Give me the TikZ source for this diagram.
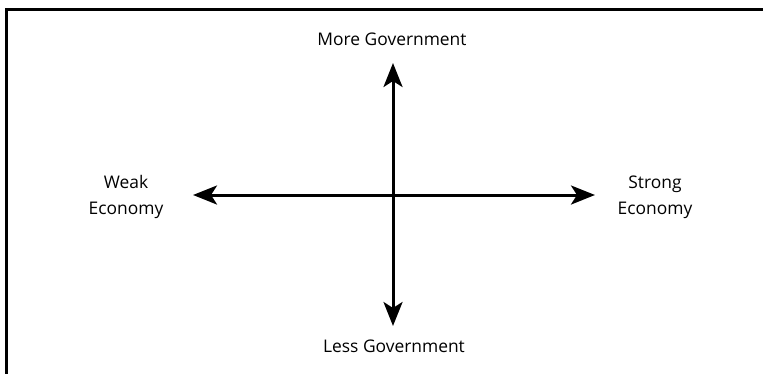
\documentclass[tikz,border=0pt]{standalone}
\usepackage{fontspec}
\setmainfont{Open Sans}
\usetikzlibrary{arrows.meta}
\tikzset{
  axis/.style={line width=3pt, {Stealth[length=24pt,width=19pt,inset=6pt]}-{Stealth[length=24pt,width=19pt,inset=6pt]}},
  lbl/.style={font=\fontsize{17.4}{26}\selectfont, align=center, inner sep=0pt, anchor=base},
  frameline/.style={line width=3pt}
}
\begin{document}
\begin{tikzpicture}[x=1pt,y=-1pt]
\useasboundingbox (0,0) rectangle (763,373);
\draw[frameline] (6.2,375) -- (6.2,9.5) -- (765,9.5);
\coordinate (top) at (393,63);
\coordinate (bot) at (393,326);
\coordinate (lft) at (193,195);
\coordinate (rgt) at (595,195);
\draw[axis] (bot) -- (top);
\draw[axis] (lft) -- (rgt);
\node[lbl] (more) at (392,45) {More Government};
\node[lbl] (less) at (394,352) {Less Government};
\node[lbl] (weak) at (126,214) {Weak\\Economy};
\node[lbl] (strong) at (655,214) {Strong\\Economy};
\end{tikzpicture}
\end{document}
